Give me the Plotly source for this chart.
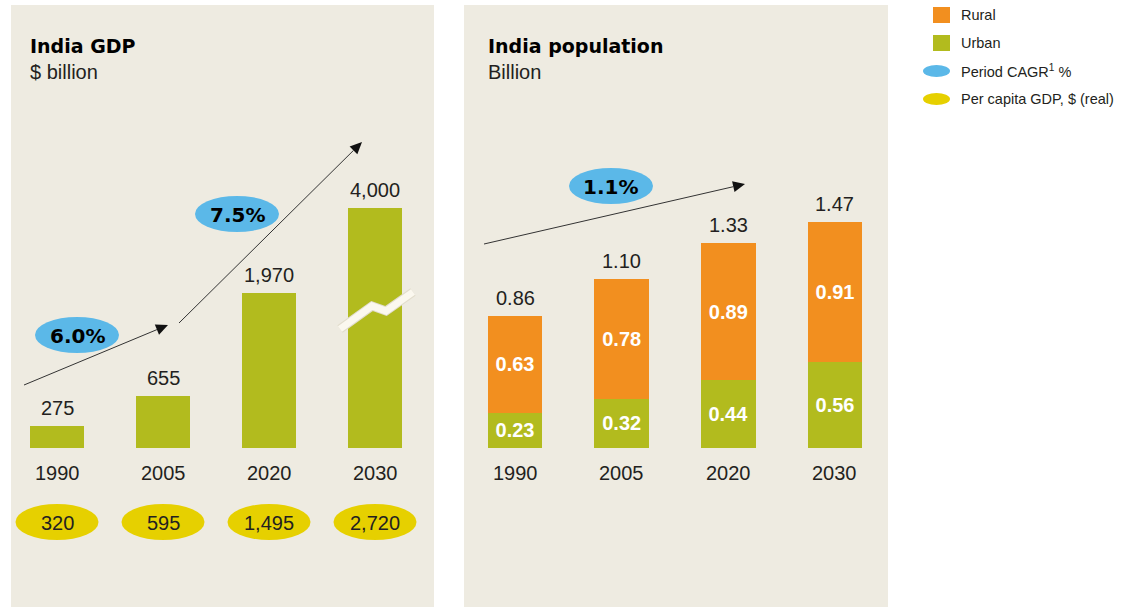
import math
import plotly.graph_objects as go

# ---------------- data ----------------
years = ["1990", "2005", "2020", "2030"]
gdp = [275, 655, 1970, 4000]                 # $ billion
gdp_break_cap = 3050                          # axis break: taller bars are drawn cut
per_capita_gdp = [320, 595, 1495, 2720]       # $ (real)
gdp_cagr = ["6.0%", "7.5%"]                   # 1990-2005, 2005-2030
pop_urban = [0.23, 0.32, 0.44, 0.56]          # billion
pop_rural = [0.63, 0.78, 0.89, 0.91]          # billion
pop_cagr = ["1.1%"]

# ---------------- style ----------------
W, H = 1132, 607
BG = "#EEEBE1"
GREEN = "#B2BB1E"
ORANGE = "#F28F1F"
BLUE = "#5BB8E8"
YELLOW = "#E6D000"
TXT = "#231F20"
FONT = "Liberation Sans"
HEAVY = "DejaVu Sans"


def px(x):
    return x / W


def py(y):
    return 1 - y / H


pop_total = [round(u + r, 2) for u, r in zip(pop_urban, pop_rural)]
gdp_drawn = [min(v, gdp_break_cap) for v in gdp]

fig = go.Figure()

fig.add_trace(go.Bar(
    x=years, y=gdp_drawn, marker_color=GREEN, marker_line_width=0,
    xaxis="x", yaxis="y", showlegend=False, hoverinfo="skip"))

for vals, name, col in [(pop_urban, "Urban", GREEN), (pop_rural, "Rural", ORANGE)]:
    fig.add_trace(go.Bar(
        x=years, y=vals, name=name, marker_color=col, marker_line_width=0,
        text=[f"{v:.2f}" for v in vals], textposition="inside",
        insidetextanchor="middle", constraintext="none",
        textfont=dict(family=FONT, size=20, color="white", weight="bold"),
        xaxis="x2", yaxis="y2", showlegend=False, hoverinfo="skip"))

shapes = []
annotations = []

# panels
for x0, x1 in [(11, 434), (464, 888)]:
    shapes.append(dict(type="rect", xref="paper", yref="paper", layer="below",
                       x0=px(x0), x1=px(x1), y0=py(607), y1=py(5),
                       fillcolor=BG, line_width=0))

# titles
for x, t, s in [(30, "India GDP", "$ billion"), (488, "India population", "Billion")]:
    annotations.append(dict(xref="paper", yref="paper", x=px(x - 2), y=py(46),
                            xanchor="left", yanchor="middle", showarrow=False,
                            text=f"<b>{t}</b>", font=dict(family=HEAVY, size=19, color="black")))
    annotations.append(dict(xref="paper", yref="paper", x=px(x - 2), y=py(72),
                            xanchor="left", yanchor="middle", showarrow=False,
                            text=s, font=dict(family=FONT, size=20, color=TXT)))

# value labels above bars, year labels below
for i, yr in enumerate(years):
    annotations.append(dict(xref="x", yref="y", x=i, y=gdp_drawn[i], xanchor="center",
                            yanchor="bottom", yshift=5, showarrow=False, text=f"{gdp[i]:,}",
                            font=dict(family=FONT, size=20, color=TXT)))
    annotations.append(dict(xref="x2", yref="y2", x=i, y=pop_total[i], xanchor="center",
                            yanchor="bottom", yshift=5, showarrow=False,
                            text=f"{pop_total[i]:.2f}",
                            font=dict(family=FONT, size=20, color=TXT)))
    for xr in ["x", "x2"]:
        annotations.append(dict(xref=xr, yref="paper", x=i, y=py(473), xanchor="center",
                                yanchor="middle", showarrow=False, text=yr,
                                font=dict(family=FONT, size=20, color=TXT)))
    # per capita GDP ellipses
    shapes.append(dict(type="circle", xref="x", yref="paper", xsizemode="pixel",
                       ysizemode="pixel", xanchor=i, yanchor=py(522),
                       x0=-41.5, x1=41.5, y0=-18, y1=18, fillcolor=YELLOW, line_width=0))
    annotations.append(dict(xref="x", yref="paper", x=i, y=py(523), xanchor="center",
                            yanchor="middle", showarrow=False, text=f"{per_capita_gdp[i]:,}",
                            font=dict(family=FONT, size=20, color=TXT)))

# axis-break squiggle on the 2030 GDP bar
sq = [(340, 329), (372, 306), (386, 311), (413, 292)]
path = "M " + " L ".join(f"{px(x)},{py(y)}" for x, y in sq)
shapes.append(dict(type="path", xref="paper", yref="paper", path=path,
                   line=dict(color="#E2DDCD", width=9)))
shapes.append(dict(type="path", xref="paper", yref="paper", path=path,
                   line=dict(color="#FBF8EF", width=7)))

# growth arrows (line + filled triangular head)
for (sx, sy), (tx, ty) in [((24, 385), (168, 325)), ((179, 323), (362, 142)),
                           ((484, 244), (745, 184))]:
    ang = math.atan2(ty - sy, tx - sx)
    L, Wd = 12, 5.5
    bx, by = tx - L * math.cos(ang), ty - L * math.sin(ang)
    nx, ny = -math.sin(ang), math.cos(ang)
    shapes.append(dict(type="line", xref="paper", yref="paper",
                       x0=px(sx), y0=py(sy), x1=px(bx), y1=py(by),
                       line=dict(color="#333333", width=1)))
    tri = [(tx, ty), (bx + nx * Wd, by + ny * Wd), (bx - nx * Wd, by - ny * Wd)]
    shapes.append(dict(type="path", xref="paper", yref="paper",
                       path="M " + " L ".join(f"{px(a)},{py(b)}" for a, b in tri) + " Z",
                       fillcolor="#111111", line_width=0))

# CAGR bubbles
for (cx, cy), lab in zip([(77, 335), (237, 214), (611, 186)], gdp_cagr + pop_cagr):
    shapes.append(dict(type="circle", xref="paper", yref="paper",
                       x0=px(cx - 42), x1=px(cx + 42), y0=py(cy + 18), y1=py(cy - 18),
                       fillcolor=BLUE, line_width=0))
    annotations.append(dict(xref="paper", yref="paper", x=px(cx), y=py(cy + 1),
                            xanchor="center", yanchor="middle", showarrow=False,
                            text=f"<b>{lab}</b>",
                            font=dict(family=HEAVY, size=20, color="black")))

# legend
legend_items = [("rect", ORANGE, "Rural", 15), ("rect", GREEN, "Urban", 43),
                ("circle", BLUE, "Period CAGR<sup>1</sup> %", 71),
                ("circle", YELLOW, "Per capita GDP, $ (real)", 99)]
for kind, col, lab, yc in legend_items:
    if kind == "rect":
        x0, x1, h = 933, 950, 8
    else:
        x0, x1, h = 923, 950, 6
    shapes.append(dict(type=kind, xref="paper", yref="paper", x0=px(x0), x1=px(x1),
                       y0=py(yc + h), y1=py(yc - h), fillcolor=col, line_width=0))
    annotations.append(dict(xref="paper", yref="paper", x=px(959), y=py(yc),
                            xanchor="left", yanchor="middle", showarrow=False, text=lab,
                            font=dict(family=FONT, size=14.5, color=TXT)))

axis_off = dict(visible=False, fixedrange=True)
fig.update_layout(
    width=W, height=H, margin=dict(l=0, r=0, t=0, b=0),
    paper_bgcolor="white", plot_bgcolor="rgba(0,0,0,0)",
    barmode="stack", bargap=0.49, showlegend=False,
    xaxis=dict(domain=[px(4), px(428)], range=[-0.5, 3.5], type="category", **axis_off),
    yaxis=dict(domain=[py(448), 1], range=[0, 448 / 0.0788], **axis_off),
    xaxis2=dict(domain=[px(461.7), px(888.3)], range=[-0.5, 3.5], type="category",
                anchor="y2", **axis_off),
    yaxis2=dict(domain=[py(448), 1], range=[0, 448 / 154.0], anchor="x2", **axis_off),
    shapes=shapes, annotations=annotations,
)

fig.write_html("out.html", config={"displayModeBar": False},
               post_script="document.body.style.margin='0';")
